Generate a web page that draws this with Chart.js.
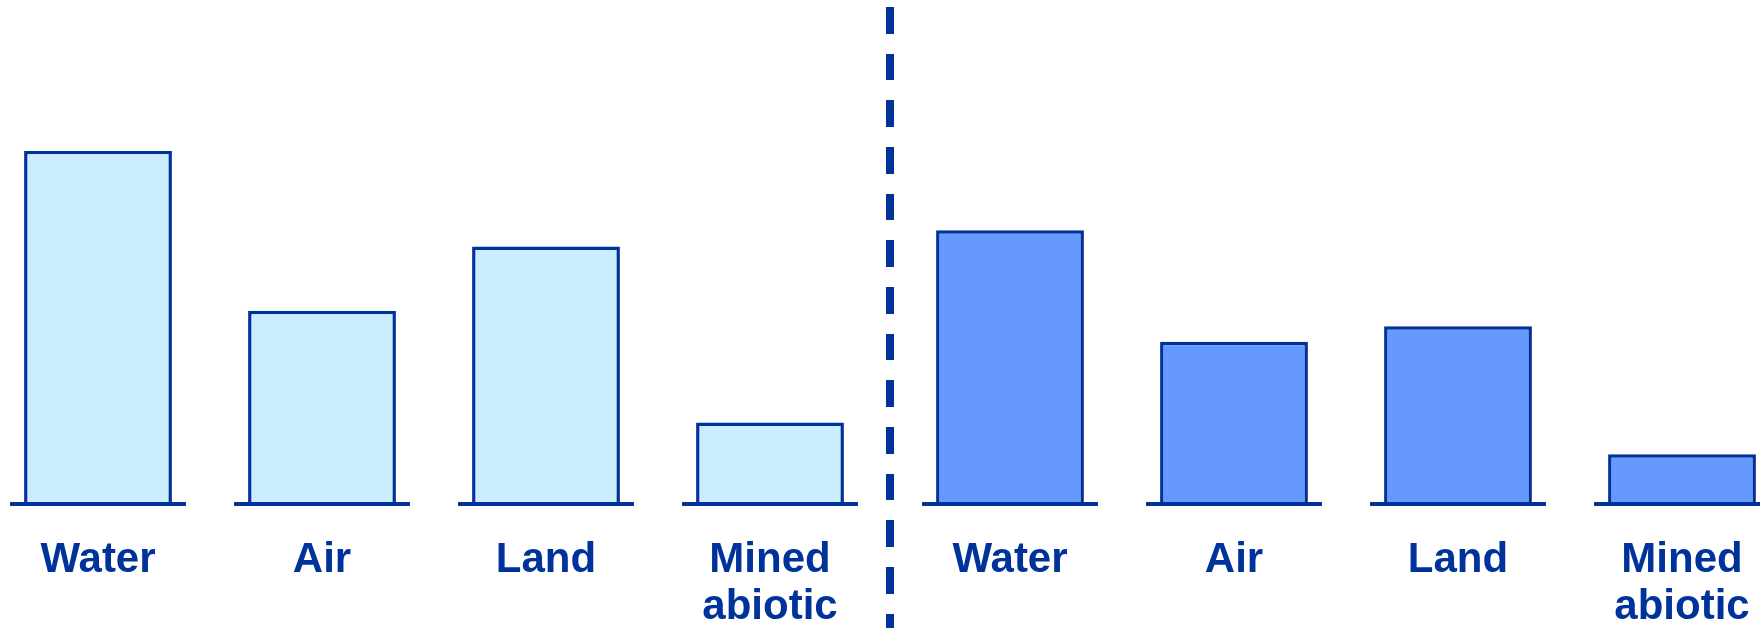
<!DOCTYPE html>
<html lang="en">
<head>
<meta charset="utf-8">
<title>Water · Air · Land · Mined abiotic</title>
<script src="https://cdn.jsdelivr.net/npm/chart.js"></script>

<style>
html,body{
  margin:0;width:1760px;height:628px;background:#fff;overflow:hidden
}
.pane{position:absolute;top:0;width:896px;height:628px}
#paneL{left:-14px}
#paneR{left:898px}
#divider{
  position:absolute;left:886px;top:7px;width:8px;height:621px;
  background:repeating-linear-gradient(to bottom,#003399 0 26.67px,transparent 26.67px 46.67px)
}
</style>
</head>

<body>
<div class="pane" id="paneL"><canvas id="left"></canvas></div>
<div id="divider"></div>
<div class="pane" id="paneR"><canvas id="right"></canvas></div>

<script>
/* ---------------- data ---------------- */
const CATEGORIES  = ['Water', 'Air', 'Land', ['Mined', 'abiotic']];
const LEFT_VALUES  = [100, 54.7, 72.9, 23.1];
const RIGHT_VALUES = [77.5, 45.9, 50.3, 14.1];

/* ---------------- colours ---------------- */
const NAVY       = '#003399';
const LEFT_FILL  = '#CCECFF';
const RIGHT_FILL = '#6699FF';

/* short baseline under every bar, a bit wider than the bar */
const baseTicks = {
  id:'baseTicks',
  afterDatasetsDraw(chart){
    const ctx = chart.ctx;
    ctx.save();
    ctx.strokeStyle = NAVY;
    ctx.lineWidth = 4;
    chart.getDatasetMeta(0).data.forEach(bar=>{
      const {x,width,base} = bar.getProps(['x','width','base'], true);
      const half = width/2 + 14;
      ctx.beginPath();
      ctx.moveTo(x-half, base);
      ctx.lineTo(x+half, base);
      ctx.stroke();
    });
    ctx.restore();
  }
};

function barCfg(values, fill){
  return {
    type:'bar',
    data:{
      labels:CATEGORIES,
      datasets:[{
        data:values,
        backgroundColor:fill,
        borderColor:NAVY,
        borderWidth:3.5,
        borderSkipped:'start',
        categoryPercentage:1,
        barPercentage:0.66
      }]
    },
    options:{
      animation:false,responsive:true,maintainAspectRatio:false,
      layout:{padding:{top:150.7,left:0,right:0,bottom:0}},
      scales:{
        x:{
          grid:{display:false,drawTicks:false},
          border:{display:false},
          ticks:{
            color:NAVY,padding:33,maxRotation:0,autoSkip:false,
            font:{family:'"Liberation Sans", Arial, sans-serif',size:42,weight:'bold',lineHeight:47/42}
          },
          afterFit:s=>{ s.height = 124; }
        },
        y:{display:false,min:0,max:100}
      },
      plugins:{legend:{display:false},tooltip:{enabled:false}}
    },
    plugins:[baseTicks]
  };
}

new Chart(document.getElementById('left'),  barCfg(LEFT_VALUES,  LEFT_FILL));
new Chart(document.getElementById('right'), barCfg(RIGHT_VALUES, RIGHT_FILL));
</script>
</body>
</html>
